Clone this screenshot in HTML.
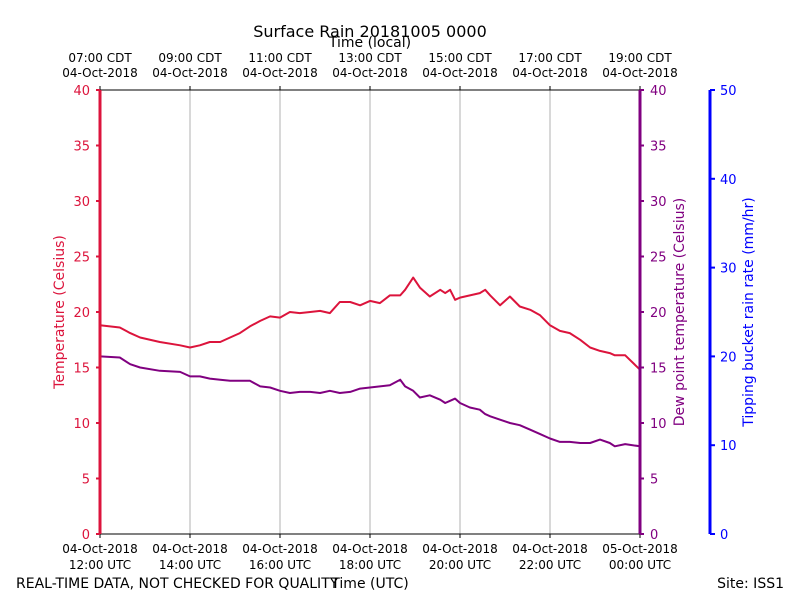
<!DOCTYPE html>
<html><head><meta charset="utf-8"><style>
body{margin:0;background:#fff}
svg{display:block;font-family:"DejaVu Sans","Liberation Sans",sans-serif}
</style></head><body>
<svg id="c" width="800" height="600" xmlns="http://www.w3.org/2000/svg">
<rect width="800" height="600" fill="#fff"/>
<text x="370" y="37" font-size="16" text-anchor="middle">Surface Rain 20181005 0000</text>
<text x="370" y="47" font-size="14" text-anchor="middle">Time (local)</text>
<text x="16" y="588" font-size="14">REAL-TIME DATA, NOT CHECKED FOR QUALITY</text>
<text x="370" y="588" font-size="14" text-anchor="middle">Time (UTC)</text>
<text x="784" y="588" font-size="14" text-anchor="end">Site: ISS1</text>
<text transform="translate(64,312) rotate(-90)" font-size="14" fill="#dc143c" text-anchor="middle">Temperature (Celsius)</text>
<text transform="translate(684,312) rotate(-90)" font-size="14" fill="#800080" text-anchor="middle">Dew point temperature (Celsius)</text>
<text transform="translate(753,312) rotate(-90)" font-size="14" fill="#0000ff" text-anchor="middle">Tipping bucket rain rate (mm/hr)</text>
<g id="g"></g>
</svg>
<script>
const hours=[12,12.44,12.67,12.89,13.33,13.78,14,14.22,14.44,14.67,14.89,15.11,15.33,15.56,15.78,16,16.22,16.44,16.67,16.89,17.11,17.33,17.56,17.78,18,18.22,18.44,18.67,18.78,18.96,19.11,19.33,19.56,19.67,19.78,19.89,20,20.22,20.44,20.56,20.67,20.89,21.11,21.33,21.56,21.78,22,22.22,22.44,22.67,22.89,23.11,23.33,23.44,23.67,24];
const temp=[18.8,18.6,18.1,17.7,17.3,17.0,16.8,17.0,17.3,17.3,17.7,18.1,18.7,19.2,19.6,19.5,20.0,19.9,20.0,20.1,19.9,20.9,20.9,20.6,21.0,20.8,21.5,21.5,22.0,23.1,22.2,21.4,22.0,21.7,22.0,21.1,21.3,21.5,21.7,22.0,21.5,20.6,21.4,20.5,20.2,19.7,18.8,18.3,18.1,17.5,16.8,16.5,16.3,16.1,16.1,14.8];
const dew=[16.0,15.9,15.3,15.0,14.7,14.6,14.2,14.2,14.0,13.9,13.8,13.8,13.8,13.3,13.2,12.9,12.7,12.8,12.8,12.7,12.9,12.7,12.8,13.1,13.2,13.3,13.4,13.9,13.3,12.9,12.3,12.5,12.1,11.8,12.0,12.2,11.8,11.4,11.2,10.8,10.6,10.3,10.0,9.8,9.4,9.0,8.6,8.3,8.3,8.2,8.2,8.5,8.2,7.9,8.1,7.9];
const tempTicks=[0,5,10,15,20,25,30,35,40];
const rainTicks=[0,10,20,30,40,50];
const gridHours=[12,14,16,18,20,22,24];
const utcLabels=["12:00 UTC","14:00 UTC","16:00 UTC","18:00 UTC","20:00 UTC","22:00 UTC","00:00 UTC"];
const utcDates=["04-Oct-2018","04-Oct-2018","04-Oct-2018","04-Oct-2018","04-Oct-2018","04-Oct-2018","05-Oct-2018"];
const localLabels=["07:00 CDT","09:00 CDT","11:00 CDT","13:00 CDT","15:00 CDT","17:00 CDT","19:00 CDT"];
const X0=100,X1=640,Y0=534,Y1=90;
const xs=h=>X0+(h-12)/12*(X1-X0);
const ys=v=>Y0-v/40*(Y0-Y1);
const yr=v=>Y0-v/50*(Y0-Y1);
const g=document.getElementById('g');
const NS="http://www.w3.org/2000/svg";
function mk(t,a,txt){const e=document.createElementNS(NS,t);for(const k in a)e.setAttribute(k,a[k]);if(txt!==undefined)e.textContent=txt;g.appendChild(e);return e;}
gridHours.forEach((h,i)=>{
 if(i>0&&i<gridHours.length-1){const l=mk('line',{x1:xs(h),x2:xs(h),y1:Y1,y2:Y0,stroke:'#b0b0b0','stroke-width':1});
 
 }
 const tb=mk('line',{x1:xs(h),x2:xs(h),y1:Y0,y2:Y0+4,stroke:'#000'});
 
 
 const tt=mk('line',{x1:xs(h),x2:xs(h),y1:Y1,y2:Y1-4,stroke:'#000'});
 
 
 const a=mk('text',{x:xs(h),y:553,'font-size':12,'text-anchor':'middle'},utcDates[i]);
 
 
 const b=mk('text',{x:xs(h),y:569,'font-size':12,'text-anchor':'middle'},utcLabels[i]);
 
 
 const c=mk('text',{x:xs(h),y:62,'font-size':12,'text-anchor':'middle'},localLabels[i]);
 
 
 const d=mk('text',{x:xs(h),y:77,'font-size':12,'text-anchor':'middle'},"04-Oct-2018");
 
 
});
const topSpine=mk('line',{x1:X0,x2:X1,y1:Y1,y2:Y1,stroke:'#000'});


const botSpine=mk('line',{x1:X0,x2:X1,y1:Y0,y2:Y0,stroke:'#000'});


function path(vals,col,name){
 const d=vals.map((v,i)=>(i?'L':'M')+xs(hours[i]).toFixed(1)+','+ys(v).toFixed(1)).join('');
 const p=mk('path',{d:d,fill:'none',stroke:col,'stroke-width':2,'stroke-linejoin':'round'});
 
 
}
path(temp,'#dc143c','temperature-line');
path(dew,'#800080','dewpoint-line');
const sl=mk('line',{x1:X0,x2:X0,y1:Y1,y2:Y0,stroke:'#dc143c','stroke-width':3});


const sr=mk('line',{x1:X1,x2:X1,y1:Y1,y2:Y0,stroke:'#800080','stroke-width':3});


const sb=mk('line',{x1:710,x2:710,y1:Y1,y2:Y0,stroke:'#0000ff','stroke-width':3});


tempTicks.forEach(v=>{
 const y=ys(v);
 const t1=mk('line',{x1:X0-4,x2:X0,y1:y,y2:y,stroke:'#dc143c','stroke-width':2});
 
 
 const l1=mk('text',{x:90,y:y+5,'font-size':13,fill:'#dc143c','text-anchor':'end'},v);
 
 
 const t2=mk('line',{x1:X1,x2:X1+4,y1:y,y2:y,stroke:'#800080','stroke-width':2});
 
 
 const l2=mk('text',{x:650,y:y+5,'font-size':13,fill:'#800080'},v);
 
 
});
rainTicks.forEach(v=>{
 const y=yr(v);
 const t=mk('line',{x1:710,x2:715,y1:y,y2:y,stroke:'#0000ff','stroke-width':2});
 
 
 const l=mk('text',{x:720,y:y+5,'font-size':13,fill:'#0000ff'},v);
 
 
});
</script>
</body></html>
